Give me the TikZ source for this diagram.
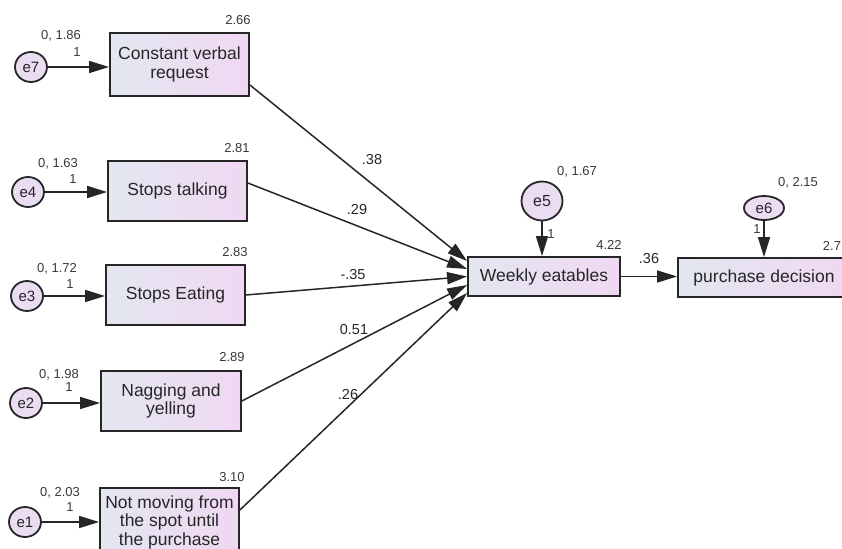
\documentclass[tikz,border=0pt]{standalone}
\usepackage{fontspec}
\setmainfont{Liberation Sans}
\usetikzlibrary{shapes.geometric,arrows.meta}
\definecolor{boxleft}{HTML}{E3E7F0}
\definecolor{boxright}{HTML}{F0D8F2}
\definecolor{errfill}{HTML}{EADCF1}
\definecolor{ink}{HTML}{262626}
\definecolor{numink}{HTML}{383838}
\tikzset{
  obs/.style={rectangle, draw=ink, line width=1.8pt, left color=boxleft, right color=boxright,
    align=center, inner sep=0pt, text=ink, font=\fontsize{17.5}{18.5}\selectfont},
  err/.style={ellipse, draw=ink, line width=1.8pt, fill=errfill, inner sep=0pt,
    text=ink, font=\fontsize{15}{16}\selectfont},
  est/.style={font=\fontsize{13}{14}\selectfont, text=numink, inner sep=0pt},
  wt/.style={font=\fontsize{14.5}{15}\selectfont, text=ink, inner sep=0pt},
  reg/.style={draw=ink, line width=1.5pt, -{Triangle[length=20pt,width=12pt]}}
}
\begin{document}
\begin{tikzpicture}[x=1pt, y=-1pt]
\useasboundingbox (0,0) rectangle (842,548);

% observed variables
\node[obs, minimum width=139pt, minimum height=63pt] (cvr) at (179.5,64.5) {Constant verbal\\request};
\node[obs, minimum width=139pt, minimum height=60pt] (stk) at (177.5,191) {Stops talking};
\node[obs, minimum width=139pt, minimum height=60pt] (set) at (175.5,295) {Stops Eating};
\node[obs, minimum width=140pt, minimum height=60pt] (nag) at (171,401) {Nagging and\\yelling};
\node[obs, minimum width=139pt, minimum height=68pt] (nmv) at (169.5,522) {Not moving from\\the spot until\\the purchase};
\node[obs, minimum width=152pt, minimum height=39pt] (wk) at (544,276.5) {Weekly eatables};
\node[obs, minimum width=172pt, minimum height=39pt] (pd) at (764,277.5) {purchase decision};

% error terms
\node[err, minimum width=32pt, minimum height=30pt] (e7) at (31,67) {e7};
\node[err, minimum width=32pt, minimum height=30pt] (e4) at (28,192) {e4};
\node[err, minimum width=32pt, minimum height=30pt] (e3) at (27,296) {e3};
\node[err, minimum width=32pt, minimum height=30pt] (e2) at (26,403) {e2};
\node[err, minimum width=32pt, minimum height=30pt] (e1) at (25,522) {e1};
\node[err, minimum width=41pt, minimum height=39pt, font=\fontsize{16}{17}\selectfont] (e5) at (542,201) {e5};
\node[err, minimum width=40pt, minimum height=24pt] (e6) at (764,208) {e6};

% error paths
\draw[reg] (e7) -- (e7 -| cvr.west);
\draw[reg] (e4) -- (e4 -| stk.west);
\draw[reg] (e3) -- (e3 -| set.west);
\draw[reg] (e2) -- (e2 -| nag.west);
\draw[reg] (e1) -- (e1 -| nmv.west);
\draw[reg] (e5) -- (e5 |- wk.north);
\draw[reg] (e6) -- (e6 |- pd.north);

% structural paths
\draw[reg] ([yshift=-20.5pt]cvr.east) -- ([yshift=15.5pt]wk.west);
\draw[reg] ([yshift=8pt]stk.east) -- ([yshift=7.5pt]wk.west);
\draw[reg] (set.east) -- (wk.west);
\draw[reg] (nag.east) -- ([yshift=-8.5pt]wk.west);
\draw[reg] ([yshift=12pt]nmv.east) -- ([yshift=-16.5pt]wk.west);
\draw[reg] (wk.east) -- (wk.east -| pd.west);

% path coefficients
\node[wt] (c1) at (372,160) {.38};
\node[wt] (c2) at (357,210) {.29};
\node[wt] (c3) at (353,275) {-.35};
\node[wt] (c4) at (354,330) {0.51};
\node[wt] (c5) at (348,395) {.26};
\node[wt] (c6) at (649,259) {.36};

% intercepts
\node[est] (i1) at (238,20) {2.66};
\node[est] (i2) at (237,148) {2.81};
\node[est] (i3) at (235,252) {2.83};
\node[est] (i4) at (232,357) {2.89};
\node[est] (i5) at (232,477) {3.10};
\node[est] (i6) at (609,245) {4.22};
\node[est] (i7) at (832,246) {2.7};

% error means and variances, fixed loadings
\node[est] (v7) at (61,36) {0, 1.86};
\node[est] (f7) at (77,52) {1};
\node[est] (v4) at (58,164) {0, 1.63};
\node[est] (f4) at (73,179) {1};
\node[est] (v3) at (57,269) {0, 1.72};
\node[est] (f3) at (70,284) {1};
\node[est] (v2) at (59,375) {0, 1.98};
\node[est] (f2) at (69,387) {1};
\node[est] (v1) at (60,493) {0, 2.03};
\node[est] (f1) at (70,507) {1};
\node[est] (v5) at (577,172) {0, 1.67};
\node[est] (f5) at (551,234) {1};
\node[est] (v6) at (798,183) {0, 2.15};
\node[est] (f6) at (757,229) {1};
\end{tikzpicture}
\end{document}
